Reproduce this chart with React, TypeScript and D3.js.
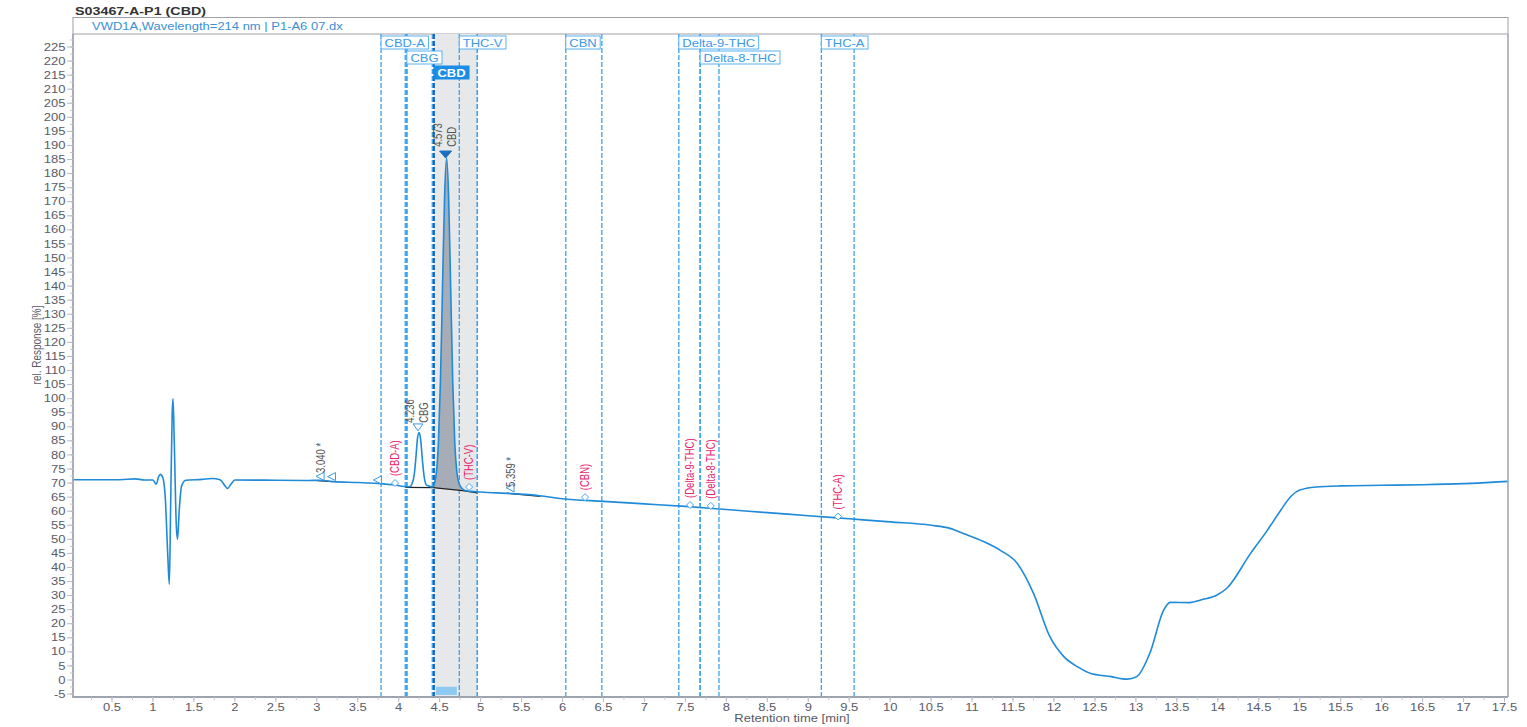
import React, { useEffect, useRef } from "react";
import * as d3 from "d3";

const W = 1527;
const H = 727;

const titleText = "S03467-A-P1 (CBD)";
const subtitleText = "VWD1A,Wavelength=214 nm | P1-A6 07.dx";
const xAxisTitle = "Retention time [min]";
const yAxisTitle = "rel. Response [%]";

// chromatogram trace (time in min, response in %)
const traceTime = [
  0.02, 0.6, 0.78, 0.9, 1.0, 1.04, 1.07, 1.09, 1.12, 1.15, 1.18, 1.2, 1.215, 1.235, 1.245, 1.26, 1.285, 1.3,
  1.32, 1.35, 1.4, 1.6, 1.72, 1.82, 1.88, 1.91, 1.95, 2.0, 2.5, 2.9, 3.04, 3.2, 3.5, 3.74, 3.95, 4.1,
  4.14, 4.16, 4.19, 4.21, 4.23, 4.25, 4.27, 4.29, 4.31, 4.34, 4.38, 4.41, 4.435, 4.46, 4.485, 4.51,
  4.535, 4.56, 4.585, 4.61, 4.635, 4.66, 4.685, 4.71, 4.735, 4.77, 4.82, 5.0, 5.36, 5.72, 6.0, 6.5,
  7.0, 7.5, 8.0, 8.5, 9.0, 9.5, 10.0, 10.5, 10.73, 10.9, 11.14, 11.35, 11.55, 11.75, 11.95, 12.12, 12.3,
  12.44, 12.7, 12.89, 13.01, 13.17, 13.34, 13.42, 13.66, 13.8, 13.99, 14.11, 14.4, 14.6, 14.76, 14.9,
  15.0, 15.2, 15.5, 16.0, 16.5, 17.0, 17.54,
];
const traceValue = [
  71.2, 71.2, 71.5, 71.1, 71.1, 69.6, 72.3, 73.1, 72.0, 65, 45, 34, 60, 95, 100, 85, 55, 50,
  60, 69, 71.0, 71.3, 71.6, 71.2, 69, 68.1, 69.5, 71.1, 71.0, 70.9, 71.0, 70.5, 70.2, 69.9, 69.3, 68.7,
  68.8, 69.6, 73, 79, 86, 88, 85, 78, 72.5, 69.3, 68.9, 68.6, 69.8, 73.6, 84.3, 106.5,
  139.5, 171.7, 185.5, 171.5, 139, 106, 84, 74, 70, 68.2, 67.3, 66.8, 66.3, 65.5, 64.4, 63.5,
  62.6, 61.7, 60.6, 59.5, 58.4, 57.3, 56.2, 55.0, 53.9, 52.0, 49.2, 46, 41.5, 30.8, 15.4, 8.3, 4.5,
  2.4, 1.2, 0.3, 1.2, 9.5, 24.9, 27.6, 27.5, 28.5, 30.2, 32.6, 45, 53, 60, 65.5,
  67.5, 68.6, 69.0, 69.2, 69.4, 69.8, 70.6,
];

// integration baselines
const baselineSegments: [number, number][][] = [
  [[3.0, 70.9], [3.2, 70.5]],
  [[4.08, 68.5], [4.42, 68.4], [4.78, 67.3], [4.96, 66.5]],
  [[5.32, 66.4], [5.73, 65.3]],
];
const cbdFillStart = 4.42;
const cbdFillEnd = 4.78;
const cbdBaseStart = 68.4;
const cbdBaseEnd = 67.3;

// compound windows
const windowNames = ["CBD-A", "CBG", "CBD", "THC-V", "CBN", "Delta-9-THC", "Delta-8-THC", "THC-A"];
const windowStart = [3.785, 4.1, 4.43, 4.74, 6.04, 7.42, 7.68, 9.16];
const windowEnd = [4.08, 4.41, 4.96, 4.96, 6.48, 7.68, 7.91, 9.56];
const windowRow = [0, 1, 2, 0, 0, 0, 1, 0];
const selectedWindow = "CBD";

// expected (not found) compounds
const expectedNames = ["(CBD-A)", "(THC-V)", "(CBN)", "(Delta-9-THC)", "(Delta-8-THC)", "(THC-A)"];
const expectedTime = [3.955, 4.86, 6.275, 7.557, 7.81, 9.364];
const expectedValue = [70.0, 68.6, 65.0, 62.2, 61.9, 58.1];

// peak start/end markers
const boundaryTime = [3.04, 3.18, 3.74, 5.36];
const boundaryValue = [72.4, 72.3, 71.1, 68.3];

// peak labels
const peakTime = [3.04, 4.236, 4.573, 5.359];
const peakNumber = ["3.040 *", "4.236", "4.573", "5.359 *"];
const peakName = ["", "CBG", "CBD", ""];
const peakLabelValue = [73.6, 91.4, 189.5, 68.6];
const peakApexValue = [0, 89.6, 186.6, 0];

const xTickValues = d3.range(0.5, 17.51, 0.5);
const xMinorValues = d3.range(0.25, 17.51, 0.25);
const yTickValues = d3.range(-5, 226, 5);
const yMinorValues = d3.range(-5, 228, 2.5);

const SX = 1.3; // horizontal glyph stretch seen in the reference

export default function App() {
  const ref = useRef<SVGSVGElement>(null);

  useEffect(() => {
    const svg = d3.select(ref.current);
    svg.selectAll("*").remove();

    const L = 73, R = 1508, T = 34, B = 697;
    const x = d3.scaleLinear().domain([0, 17.5]).range([71.04, 1504.5]);
    const y = d3.scaleLinear().domain([0, 225]).range([680, 47]);
    const font = "Arial, 'Liberation Sans', sans-serif";

    const addText = (
      parent: any, tx: number, ty: number, str: string,
      o: { size: number; fill: string; anchor?: string; weight?: string; rotate?: boolean }
    ) => {
      const t = parent.append("text")
        .attr("transform", `translate(${tx},${ty}) scale(${SX},1)${o.rotate ? " rotate(-90)" : ""}`)
        .attr("font-family", font).attr("font-size", o.size).attr("fill", o.fill)
        .attr("text-anchor", o.anchor || "start").attr("font-weight", o.weight || "normal")
        .text(str);
      return t;
    };

    svg.append("rect").attr("width", W).attr("height", H).attr("fill", "#fff");

    const defs = svg.append("defs");
    defs.append("clipPath").attr("id", "plotclip")
      .append("rect").attr("x", L).attr("y", T).attr("width", R - L).attr("height", B - T);

    // title
    addText(svg, 75, 15, titleText, { size: 11, fill: "#333", weight: "bold" });
    svg.append("rect").attr("x", L).attr("y", 17.5).attr("width", R - L).attr("height", 16.5)
      .attr("fill", "#fff").attr("stroke", "#a0a0a8").attr("stroke-width", 1);
    addText(svg, 92, 30, subtitleText, { size: 10, fill: "#3a8fd6" });

    const plot = svg.append("g").attr("clip-path", "url(#plotclip)");

    // selected window band
    const selIdx = windowNames.indexOf(selectedWindow);
    plot.append("rect").attr("x", x(windowStart[selIdx])).attr("y", T)
      .attr("width", x(windowEnd[selIdx]) - x(windowStart[selIdx])).attr("height", B - T)
      .attr("fill", "#e7e8ea");
    plot.append("rect").attr("x", x(windowStart[selIdx]) + 2).attr("y", y(-2.4))
      .attr("width", x(4.71) - x(windowStart[selIdx]) - 2).attr("height", y(-5.3) - y(-2.4))
      .attr("fill", "#8ccaf2");

    // window lines
    windowNames.forEach((n, i) => {
      [windowStart[i], windowEnd[i]].forEach((t, k) => {
        const sel = n === selectedWindow && k === 0;
        plot.append("line").attr("x1", x(t)).attr("x2", x(t)).attr("y1", T).attr("y2", B)
          .attr("stroke", sel ? "#1565b8" : "#38a2f0")
          .attr("stroke-width", sel ? 2 : (n === "CBG" && k === 0 ? 1.8 : 1.3))
          .attr("stroke-dasharray", "5,2");
      });
    });

    const pts = traceTime.map((t, i) => [t, traceValue[i]] as [number, number]);

    // CBD peak fill
    const baseAt = d3.scaleLinear().domain([cbdFillStart, cbdFillEnd]).range([cbdBaseStart, cbdBaseEnd]);
    const fillPts = pts.filter((p) => p[0] >= cbdFillStart && p[0] <= cbdFillEnd);
    plot.append("path").datum(fillPts)
      .attr("d", d3.area<[number, number]>().x((d) => x(d[0])).y0((d) => y(baseAt(d[0]))).y1((d) => y(d[1]))
        .curve(d3.curveMonotoneX))
      .attr("fill", "#a3aab3").attr("opacity", 0.95);

    // baselines
    baselineSegments.forEach((seg) => {
      plot.append("path").datum(seg)
        .attr("d", d3.line<[number, number]>().x((d) => x(d[0])).y((d) => y(d[1])))
        .attr("fill", "none").attr("stroke", "#222").attr("stroke-width", 1.2);
    });

    // trace
    plot.append("path").datum(pts)
      .attr("d", d3.line<[number, number]>().x((d) => x(d[0])).y((d) => y(d[1])).curve(d3.curveMonotoneX))
      .attr("fill", "none").attr("stroke", "#1f8ad8").attr("stroke-width", 1.6);

    // boundary markers
    boundaryTime.forEach((t, i) => {
      const cx = x(t), cy = y(boundaryValue[i]);
      plot.append("path").attr("d", `M${cx + 4},${cy - 4}L${cx - 4},${cy}L${cx + 4},${cy + 4}Z`)
        .attr("fill", "#fff").attr("stroke", "#3a9be6").attr("stroke-width", 1);
    });

    // expected diamonds & pink labels
    expectedNames.forEach((n, i) => {
      const cx = x(expectedTime[i]), cy = y(expectedValue[i]);
      plot.append("path").attr("d", `M${cx},${cy - 3.5}L${cx + 3.5},${cy}L${cx},${cy + 3.5}L${cx - 3.5},${cy}Z`)
        .attr("fill", "#fff").attr("stroke", "#4aa8f0").attr("stroke-width", 1);
      addText(plot, cx + 4, cy - 7, n, { size: 9.5, fill: "#e8246c", rotate: true });
    });

    // peak labels
    peakTime.forEach((t, i) => {
      const cx = x(t);
      const ly = y(peakLabelValue[i]);
      if (peakName[i]) {
        addText(plot, cx - 4, ly, peakNumber[i], { size: 9.5, fill: "#555", rotate: true });
        addText(plot, cx + 10, ly, peakName[i], { size: 9.5, fill: "#555", rotate: true });
        const ay = y(peakApexValue[i]);
        const sel = peakName[i] === selectedWindow;
        const hw = sel ? 6 : 5;
        plot.append("path").attr("d", `M${cx - hw},${ay - 4}L${cx + hw},${ay - 4}L${cx},${ay + 3}Z`)
          .attr("fill", sel ? "#1a6fc0" : "#fff").attr("stroke", sel ? "#1a6fc0" : "#3a9be6").attr("stroke-width", 1);
      } else {
        addText(plot, cx + 5, ly, peakNumber[i], { size: 9.5, fill: "#555", rotate: true });
      }
    });

    // window label boxes
    windowNames.forEach((n, i) => {
      const bx = x(windowStart[i]);
      const by = 36 + windowRow[i] * 15;
      const sel = n === selectedWindow;
      const g = svg.append("g");
      const rect = g.append("rect").attr("x", bx).attr("y", by).attr("height", 13)
        .attr("fill", sel ? "#1a8ee6" : "#fff").attr("stroke", sel ? "#1a8ee6" : "#5ab2f2").attr("stroke-width", 1);
      const txt = addText(g, bx + 3.5, by + 10.5, n, {
        size: 10, fill: sel ? "#fff" : "#3a9ae8", weight: sel ? "bold" : "normal",
      });
      const tw = (txt.node() as SVGTextElement).getComputedTextLength() * SX;
      rect.attr("width", tw + 7);
    });

    // axes
    const axisColor = "#9ea3b0";
    svg.append("line").attr("x1", L).attr("x2", L).attr("y1", T).attr("y2", B + 1)
      .attr("stroke", axisColor).attr("stroke-width", 1.8);
    svg.append("line").attr("x1", L).attr("x2", R).attr("y1", B).attr("y2", B)
      .attr("stroke", axisColor).attr("stroke-width", 1.8);
    svg.append("line").attr("x1", R).attr("x2", R).attr("y1", T).attr("y2", B)
      .attr("stroke", axisColor).attr("stroke-width", 1.5);

    yMinorValues.forEach((v) => {
      svg.append("line").attr("x1", L - 3).attr("x2", L).attr("y1", y(v)).attr("y2", y(v))
        .attr("stroke", "#c4c7d0").attr("stroke-width", 1);
    });
    yTickValues.forEach((v) => {
      svg.append("line").attr("x1", L - 6).attr("x2", L).attr("y1", y(v)).attr("y2", y(v))
        .attr("stroke", "#b8bcc6").attr("stroke-width", 1);
      addText(svg, 65.5, y(v) + 3.6, String(v), { size: 10, fill: "#5a5a66", anchor: "end" });
    });
    xMinorValues.forEach((v) => {
      svg.append("line").attr("x1", x(v)).attr("x2", x(v)).attr("y1", B).attr("y2", B + 3)
        .attr("stroke", "#c4c7d0").attr("stroke-width", 1);
    });
    xTickValues.forEach((v) => {
      svg.append("line").attr("x1", x(v)).attr("x2", x(v)).attr("y1", B).attr("y2", B + 5)
        .attr("stroke", "#b8bcc6").attr("stroke-width", 1);
      addText(svg, x(v), 711, String(v), { size: 10, fill: "#5a5a66", anchor: "middle" });
    });

    addText(svg, 792, 722, xAxisTitle, { size: 10, fill: "#5a5a66", anchor: "middle" });
    addText(svg, 41, 345, yAxisTitle, { size: 10, fill: "#5a5a66", anchor: "middle", rotate: true });
  }, []);

  return (
    <svg ref={ref} width={W} height={H}
      style={{ position: "fixed", left: 0, top: 0, background: "#fff", display: "block" }} />
  );
}
